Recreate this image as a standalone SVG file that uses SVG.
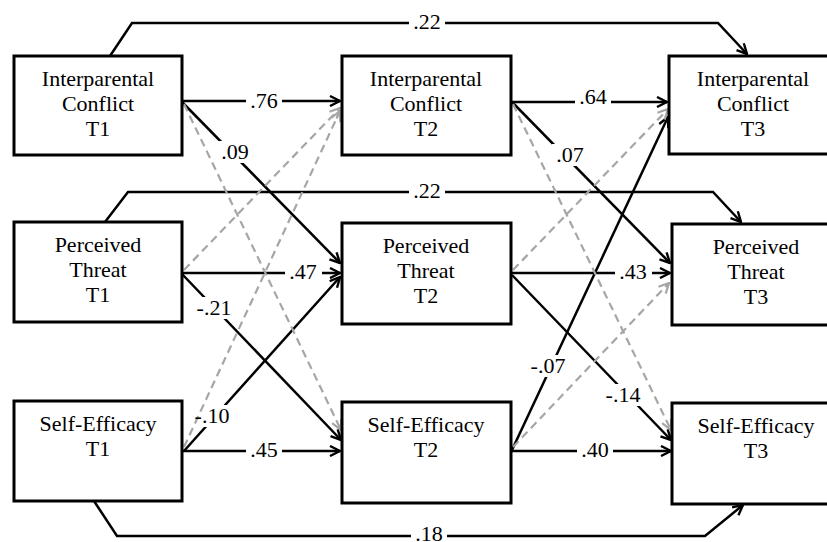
<svg xmlns="http://www.w3.org/2000/svg" width="827" height="542" viewBox="0 0 827 542">
<style>
.box{fill:#fff;stroke:#000;stroke-width:3}
.t{font-family:'Liberation Serif','Tinos','Times New Roman','Nimbus Roman','FreeSerif','Noto Serif','DejaVu Serif',serif;font-size:22px;fill:#000;text-anchor:middle}
.s{fill:none;stroke:#000;stroke-width:2.5;marker-end:url(#ab)}
.d{fill:none;stroke:#a6a6a6;stroke-width:2.2;stroke-dasharray:8 5;marker-end:url(#ag)}
.gap{fill:#fff}
</style>
<defs>
<marker id="ab" viewBox="0 0 12 12" refX="11" refY="6" markerWidth="12" markerHeight="12" markerUnits="userSpaceOnUse" orient="auto">
<path d="M1,1 L11,6 L1,11" fill="none" stroke="#000" stroke-width="2.4"/>
</marker>
<marker id="ag" viewBox="0 0 12 12" refX="11" refY="6" markerWidth="12" markerHeight="12" markerUnits="userSpaceOnUse" orient="auto">
<path d="M1,1 L11,6 L1,11" fill="none" stroke="#a6a6a6" stroke-width="2.2" stroke-dasharray="none"/>
</marker>
</defs>
<rect width="827" height="542" fill="#fff"/>
<g id="connectors">
<path class="s" d="M110,56 L132,23 L718,23 L747,54"/>
<path class="s" d="M105,222 L128,192 L713,192 L741,222"/>
<path class="s" d="M94,501 L117,536 L705,536 L743,505"/>
<path class="s" d="M182,101 L340,101"/>
<path class="s" d="M182,102 L340,263"/>
<path class="s" d="M182,273 L340,273"/>
<path class="s" d="M182,274 L341,440"/>
<path class="s" d="M184,451 L340,277"/>
<path class="s" d="M182,451 L340,451"/>
<path class="s" d="M511,102 L667,102"/>
<path class="s" d="M512,102 L670,263"/>
<path class="s" d="M511,273 L670,273"/>
<path class="s" d="M512,275 L671,440"/>
<path class="s" d="M512,450 L668,117"/>
<path class="s" d="M511,451 L671,451"/>
<g id="label-gaps">
<rect class="gap" x="409" y="11" width="36" height="22"/>
<rect class="gap" x="409" y="180" width="36" height="22"/>
<rect class="gap" x="411" y="524" width="36" height="18"/>
<rect class="gap" x="246" y="90" width="36" height="22"/>
<rect class="gap" x="217" y="141" width="36" height="22"/>
<rect class="gap" x="285" y="261" width="37" height="22"/>
<rect class="gap" x="192" y="297" width="43" height="22"/>
<rect class="gap" x="190" y="405" width="43" height="22"/>
<rect class="gap" x="246" y="439" width="36" height="22"/>
<rect class="gap" x="575" y="86" width="36" height="22"/>
<rect class="gap" x="552" y="144" width="36" height="22"/>
<rect class="gap" x="615" y="261" width="37" height="22"/>
<rect class="gap" x="601" y="384" width="43" height="22"/>
<rect class="gap" x="526" y="355" width="43" height="22"/>
<rect class="gap" x="577" y="439" width="36" height="22"/>
</g>
<path class="d" d="M184,270 L340,108"/>
<path class="d" d="M184,447 L340,111"/>
<path class="d" d="M184,104 L341,430"/>
<path class="d" d="M513,104 L671,430"/>
<path class="d" d="M513,270 L668,109"/>
<path class="d" d="M513,447 L669,283"/>
<g id="labels">
<text class="t" x="427" y="29">.22</text>
<text class="t" x="427" y="198">.22</text>
<text class="t" x="429" y="541">.18</text>
<text class="t" x="264" y="108">.76</text>
<text class="t" x="235" y="159">.09</text>
<text class="t" x="303" y="279">.47</text>
<text class="t" x="214" y="315">-.21</text>
<text class="t" x="212" y="423">-.10</text>
<text class="t" x="264" y="457">.45</text>
<text class="t" x="593" y="104">.64</text>
<text class="t" x="570" y="162">.07</text>
<text class="t" x="633" y="279">.43</text>
<text class="t" x="623" y="402">-.14</text>
<text class="t" x="548" y="373">-.07</text>
<text class="t" x="595" y="457">.40</text>
</g>
</g>
<g id="ic1">
<rect class="box" x="14" y="56" width="168" height="99"/>
<text class="t" x="98" y="86">Interparental</text>
<text class="t" x="98" y="111">Conflict</text>
<text class="t" x="98" y="136">T1</text>
</g>
<g id="pt1">
<rect class="box" x="14" y="222" width="168" height="100"/>
<text class="t" x="98" y="252">Perceived</text>
<text class="t" x="98" y="277">Threat</text>
<text class="t" x="98" y="302">T1</text>
</g>
<g id="se1">
<rect class="box" x="14" y="401" width="168" height="100"/>
<text class="t" x="98" y="431">Self-Efficacy</text>
<text class="t" x="98" y="456">T1</text>
</g>
<g id="ic2">
<rect class="box" x="342" y="56" width="169" height="99"/>
<text class="t" x="426" y="86">Interparental</text>
<text class="t" x="426" y="111">Conflict</text>
<text class="t" x="426" y="136">T2</text>
</g>
<g id="pt2">
<rect class="box" x="342" y="223" width="169" height="101"/>
<text class="t" x="426" y="253">Perceived</text>
<text class="t" x="426" y="278">Threat</text>
<text class="t" x="426" y="303">T2</text>
</g>
<g id="se2">
<rect class="box" x="342" y="402" width="169" height="101"/>
<text class="t" x="426" y="432">Self-Efficacy</text>
<text class="t" x="426" y="457">T2</text>
</g>
<g id="ic3">
<rect class="box" x="669" y="56" width="170" height="98"/>
<text class="t" x="753" y="86">Interparental</text>
<text class="t" x="753" y="111">Conflict</text>
<text class="t" x="753" y="136">T3</text>
</g>
<g id="pt3">
<rect class="box" x="672" y="224" width="170" height="101"/>
<text class="t" x="756" y="254">Perceived</text>
<text class="t" x="756" y="279">Threat</text>
<text class="t" x="756" y="304">T3</text>
</g>
<g id="se3">
<rect class="box" x="672" y="403" width="170" height="101"/>
<text class="t" x="756" y="433">Self-Efficacy</text>
<text class="t" x="756" y="458">T3</text>
</g>
</svg>
